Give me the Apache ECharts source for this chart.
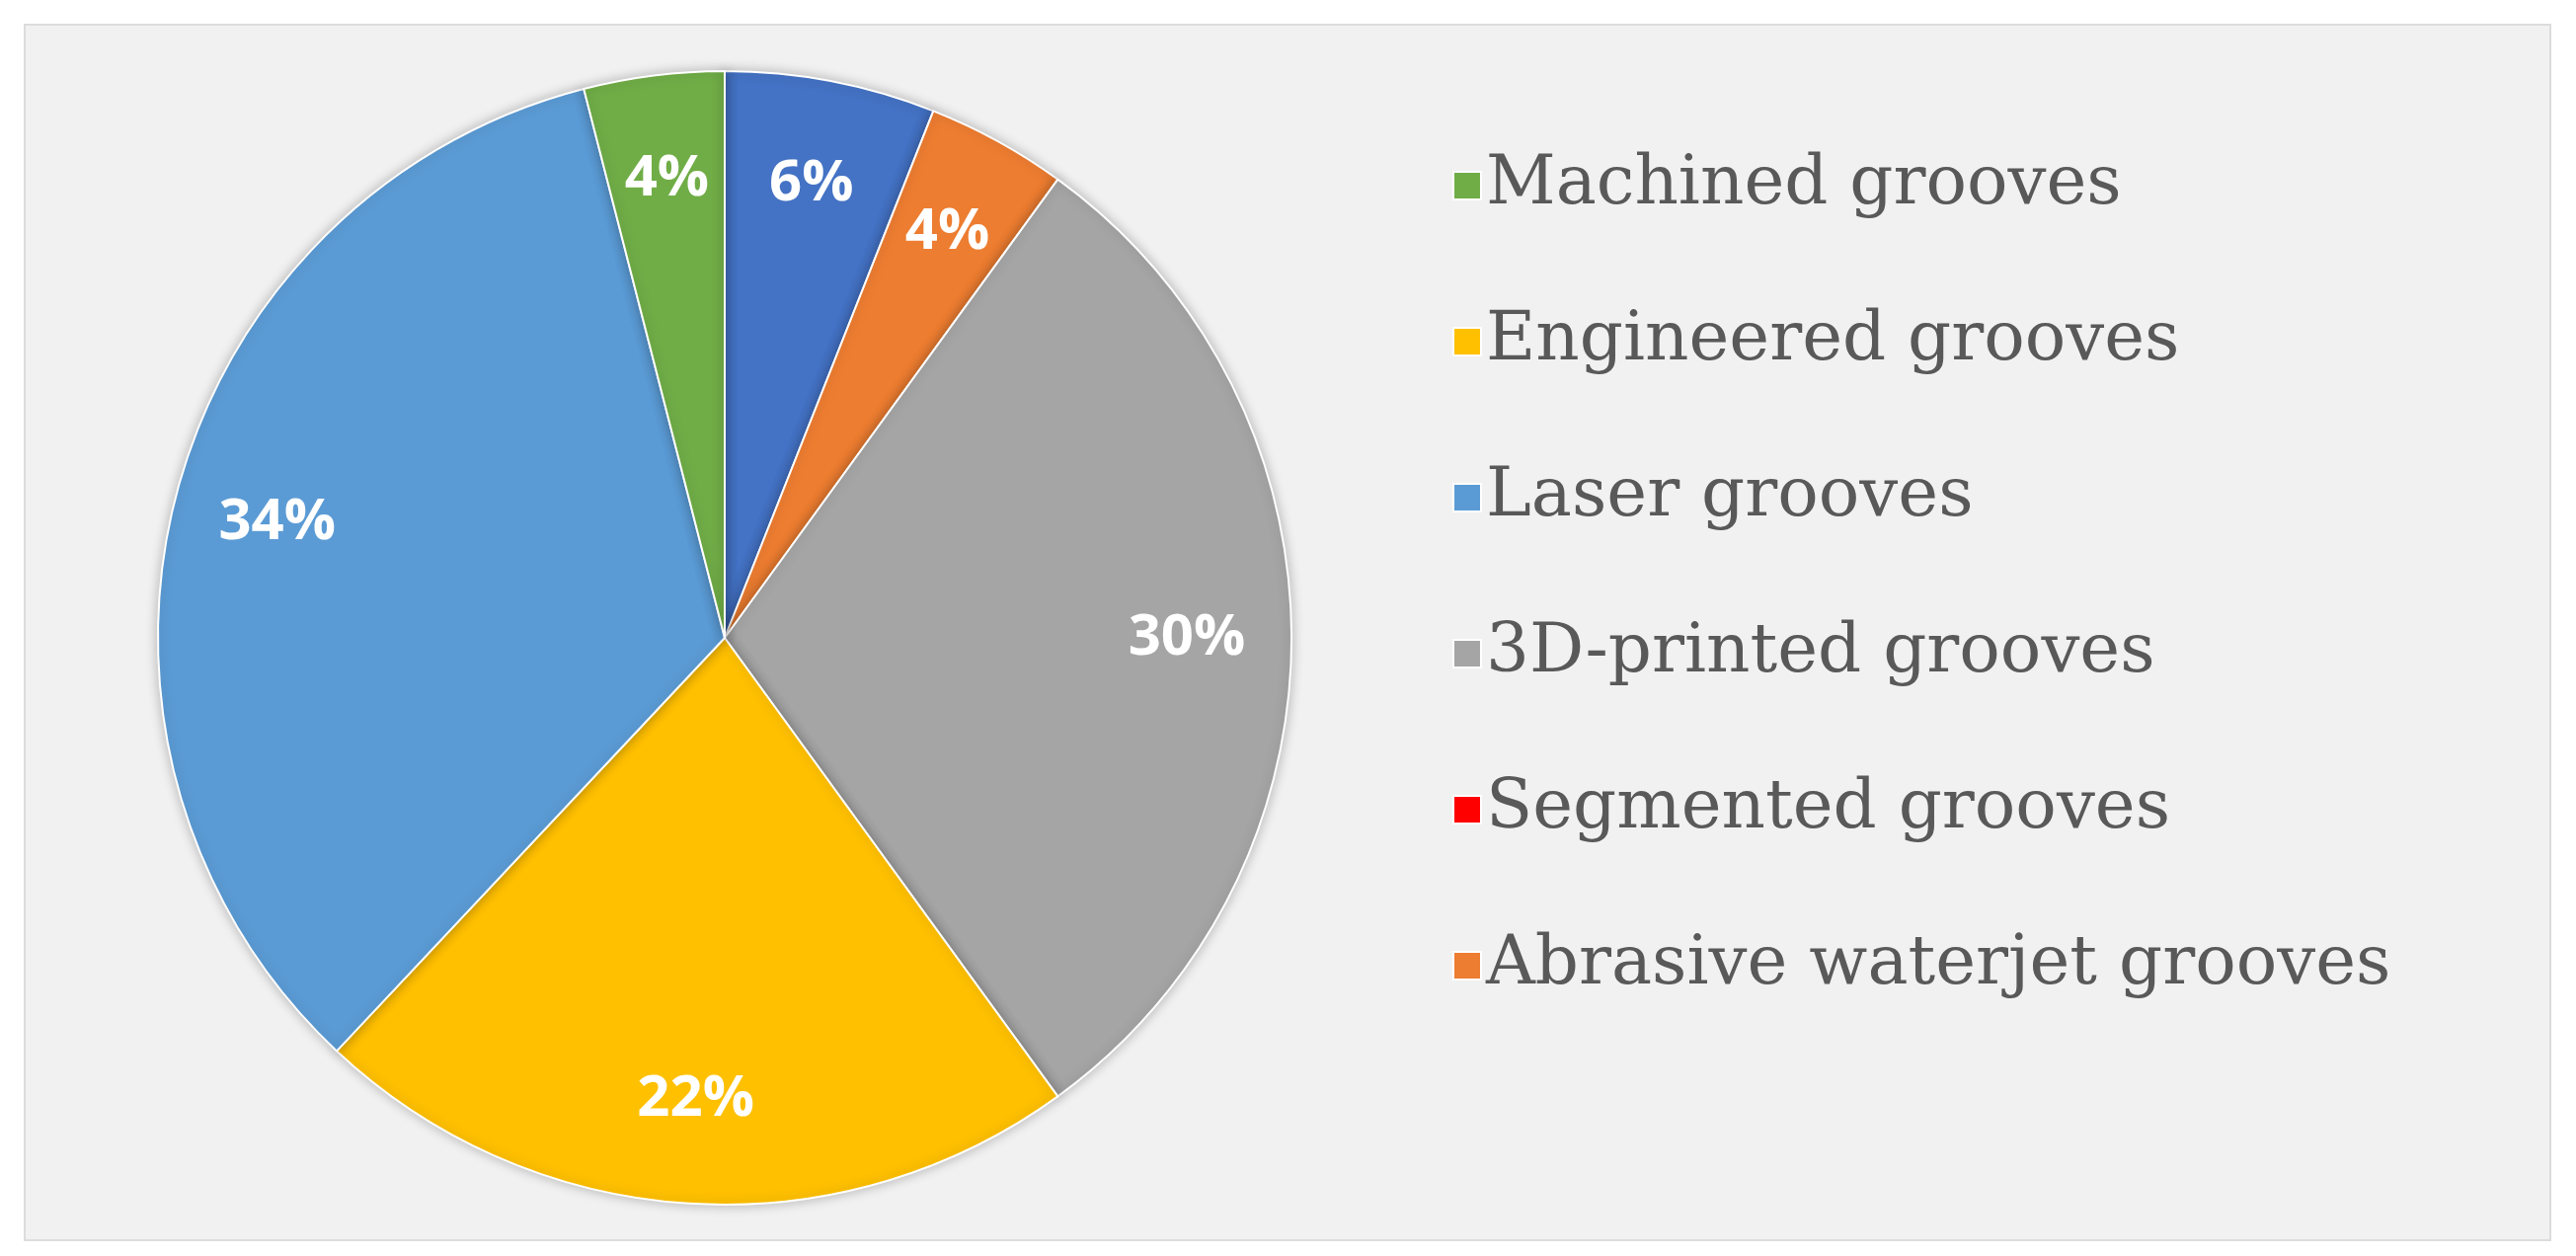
<!DOCTYPE html>
<html><head><meta charset="utf-8">
<script src="https://cdn.jsdelivr.net/npm/echarts@6/dist/echarts.min.js"></script>
<style>html,body{margin:0;padding:0;background:#fff}#c{width:2609px;height:1272px}</style>
</head><body><div id="c"></div>
<script>
const names = ['Other grooves','Abrasive waterjet grooves','3D-printed grooves','Engineered grooves','Laser grooves','Machined grooves','Segmented grooves'];
const values = [6,4,30,22,34,4,0];
const colors = ['#4472C4','#ED7D31','#A5A5A5','#FFC000','#5B9BD5','#70AD47','#FF0000'];
const legendOrder = ['Machined grooves','Engineered grooves','Laser grooves','3D-printed grooves','Segmented grooves','Abrasive waterjet grooves'];

const data = names.map((n,i)=>({name:n,value:values[i],itemStyle:{color:colors[i]}}));
const chart = echarts.init(document.getElementById('c'));
chart.setOption({
  backgroundColor:'#ffffff',
  animation:false,
  graphic:[{type:'rect',z:-10,shape:{x:25,y:25,width:2558,height:1231},style:{fill:'#f1f1f1',stroke:'#dcdcdc',lineWidth:2}}],
  legend:{
    orient:'vertical',left:1466,top:138,data:legendOrder,
    itemWidth:28,itemHeight:28,itemGap:68,icon:'rect',
    textStyle:{fontFamily:'DejaVu Serif',fontSize:69,color:'#595959',lineHeight:90,padding:[0,0,0,0]}
  },
  series:[
    {type:'pie',center:[734,646],radius:[0,574],startAngle:90,clockwise:true,
     data:data,label:{show:false},labelLine:{show:false},
     itemStyle:{borderColor:'#ffffff',borderWidth:2,shadowBlur:12,shadowColor:'rgba(0,0,0,0.25)'}},
    {type:'pie',center:[734,646],radius:[356,574],startAngle:90,clockwise:true,silent:true,
     legendHoverLink:false,
     data:data.map(d=>({name:d.name,value:d.value,itemStyle:{color:'transparent'},
       label:{show:d.value>0}})),
     label:{position:'inside',formatter:p=>p.value+'%',color:'#ffffff',fontWeight:'bold',
       fontFamily:'Open Sans',fontSize:58},
     labelLine:{show:false}}
  ]
});
</script></body></html>
